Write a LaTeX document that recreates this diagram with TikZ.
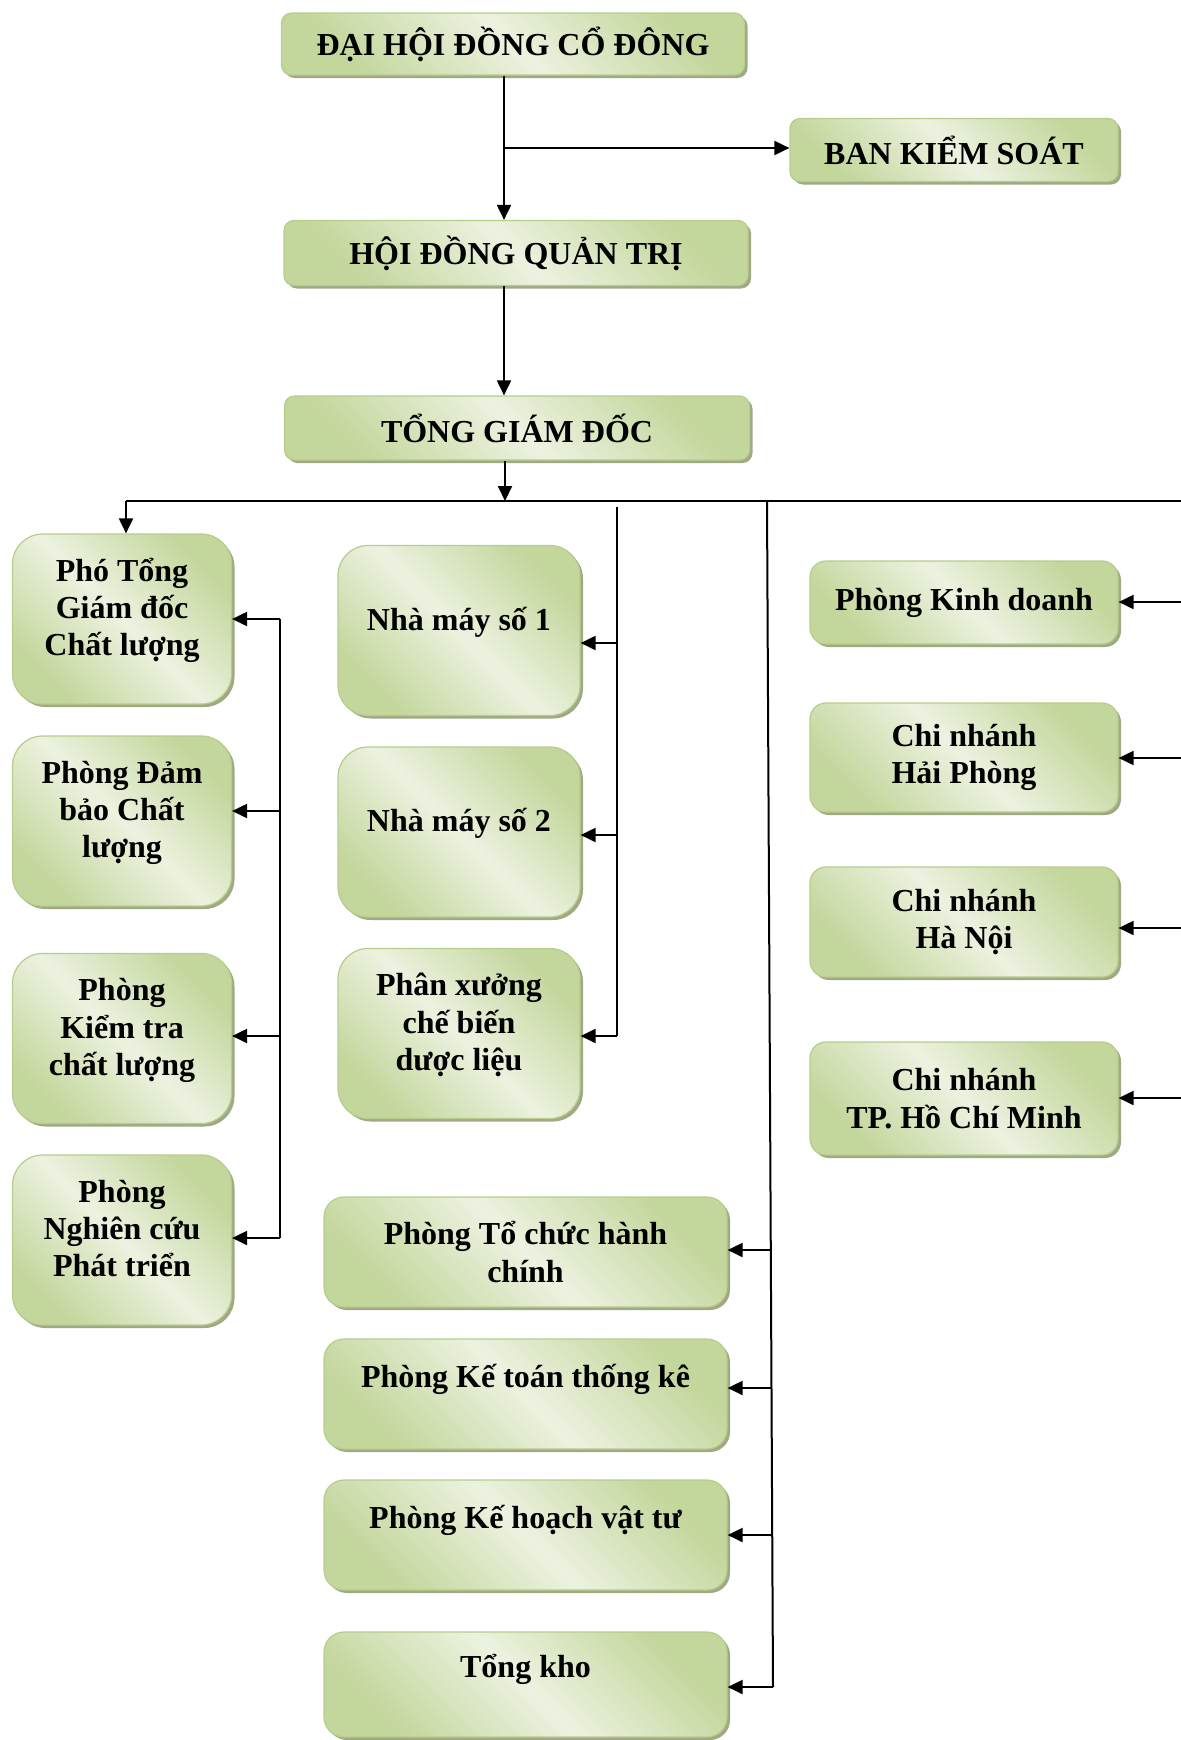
\documentclass[tikz,border=0pt]{standalone}
\usepackage{fontspec}
\setmainfont{Liberation Serif}
\usetikzlibrary{arrows.meta,shadows}

\definecolor{gLight}{RGB}{236,242,224}
\definecolor{gDark}{RGB}{195,214,155}
\definecolor{gEdge}{RGB}{184,204,140}
\definecolor{gShadow}{RGB}{150,160,118}

% text of the tall boxes sits a little above the middle
\newcommand{\lift}[1]{\raisebox{3.9pt}[\height][\depth]{\begin{tabular}{@{}c@{}}#1\end{tabular}}}

\tikzset{
	orgbox/.style={draw=gEdge, line width=0.6pt, top color=gDark, bottom color=gDark,
		middle color=gLight, shading angle=-45,
		drop shadow={shadow xshift=1.5pt, shadow yshift=-1.5pt, fill=gShadow, opacity=0.9},
		align=center, inner sep=2pt, font=\bfseries\fontsize{16}{18.6}\selectfont},
	link/.style={line width=1pt, -{Triangle[length=7.5pt,width=7pt]}},
	wire/.style={line width=1pt}
}

\begin{document}
\begin{tikzpicture}[x=0.5pt, y=-0.5pt]
\useasboundingbox (0,0) rectangle (1181,1740);

% top chain
\node[orgbox, rounded corners=5pt, minimum width=231.5pt, minimum height=31pt] (dh) at (513, 44) {ĐẠI HỘI ĐỒNG CỔ ĐÔNG};
\node[orgbox, rounded corners=5pt, minimum width=164pt, minimum height=31.5pt] (bks) at (954, 150) {BAN KIỂM SOÁT};
\node[orgbox, rounded corners=5pt, minimum width=232pt, minimum height=32.5pt] (hd) at (516, 253) {HỘI ĐỒNG QUẢN TRỊ};
\node[orgbox, rounded corners=5pt, minimum width=232.5pt, minimum height=32pt] (tgd) at (517, 428) {TỔNG GIÁM ĐỐC};

\coordinate (spine) at (504, 148);
\draw[link] (dh.south -| spine) -- (hd.north -| spine);
\draw[link] (spine) -- (bks.west |- spine);
\draw[link] (hd.south -| spine) -- (tgd.north -| spine);

\coordinate (hub) at (505, 501);
\coordinate (hl) at (126, 501);
\coordinate (hr) at (1181, 501);
\draw[link] (tgd.south -| hub) -- (hub);
\draw[wire] (hl) -- (hr);

% left column
\foreach \n/\y/\t in {pgd/619/Phó Tổng\\Giám đốc\\Chất lượng, dbcl/821/Phòng Đảm\\bảo Chất\\lượng,
	ktcl/1038.5/Phòng\\Kiểm tra\\chất lượng, ncpt/1240/Phòng\\Nghiên cứu\\Phát triển}
	\node[orgbox, rounded corners=15pt, minimum width=109.5pt, minimum height=85pt] (\n) at (122, \y) {\lift{\t}};

\draw[link] (hl) -- (hl |- pgd.north);
\draw[wire] (280, 619) -- (280, 1238);
\foreach \n/\y in {pgd/619, dbcl/811, ktcl/1036, ncpt/1238}{
	\coordinate (a\n) at (280, \y);
	\draw[link] (a\n) -- (a\n -| \n.east);
}

% factories
\foreach \n/\y/\t in {nm1/630.5/Nhà máy số 1, nm2/832/Nhà máy số 2, px/1033.5/Phân xưởng\\chế biến\\dược liệu}
	\node[orgbox, rounded corners=15pt, minimum width=121pt, minimum height=85pt] (\n) at (459, \y) {\lift{\t}};

\draw[wire] (617, 507) -- (617, 1036);
\foreach \n/\y in {nm1/643, nm2/835, px/1036}{
	\coordinate (f\n) at (617, \y);
	\draw[link] (f\n) -- (f\n -| \n.east);
}

% offices
\foreach \n/\y/\h/\t in {tchc/1252/55/Phòng Tổ chức hành\\chính, kttk/1394/55/Phòng Kế toán thống kê\\~,
	khvt/1535/55/Phòng Kế hoạch vật tư\\~, kho/1684.5/52.5/Tổng kho\\~}
	\node[orgbox, rounded corners=10pt, minimum width=201.5pt, minimum height=\h pt] (\n) at (525.5, \y) {\t};

\draw[wire] (767, 502) -- (773, 1687);
\foreach \n/\x/\y in {tchc/770.8/1250, kttk/771.5/1388, khvt/772.2/1535, kho/773/1687}{
	\coordinate (v\n) at (\x, \y);
	\draw[link] (v\n) -- (v\n -| \n.east);
}

% sales and branches
\foreach \n/\y/\h/\t in {kd/602.5/41.5/Phòng Kinh doanh, hp/757.5/54.5/Chi nhánh\\Hải Phòng,
	hn/922/55/Chi nhánh\\Hà Nội, hcm/1098.5/56.5/Chi nhánh\\TP. Hồ Chí Minh}
	\node[orgbox, rounded corners=8pt, minimum width=154pt, minimum height=\h pt] (\n) at (964, \y) {\t};

\foreach \n/\y in {kd/602, hp/758, hn/928, hcm/1098}{
	\coordinate (r\n) at (1181, \y);
	\draw[link] (r\n) -- (r\n -| \n.east);
}

\end{tikzpicture}
\end{document}
